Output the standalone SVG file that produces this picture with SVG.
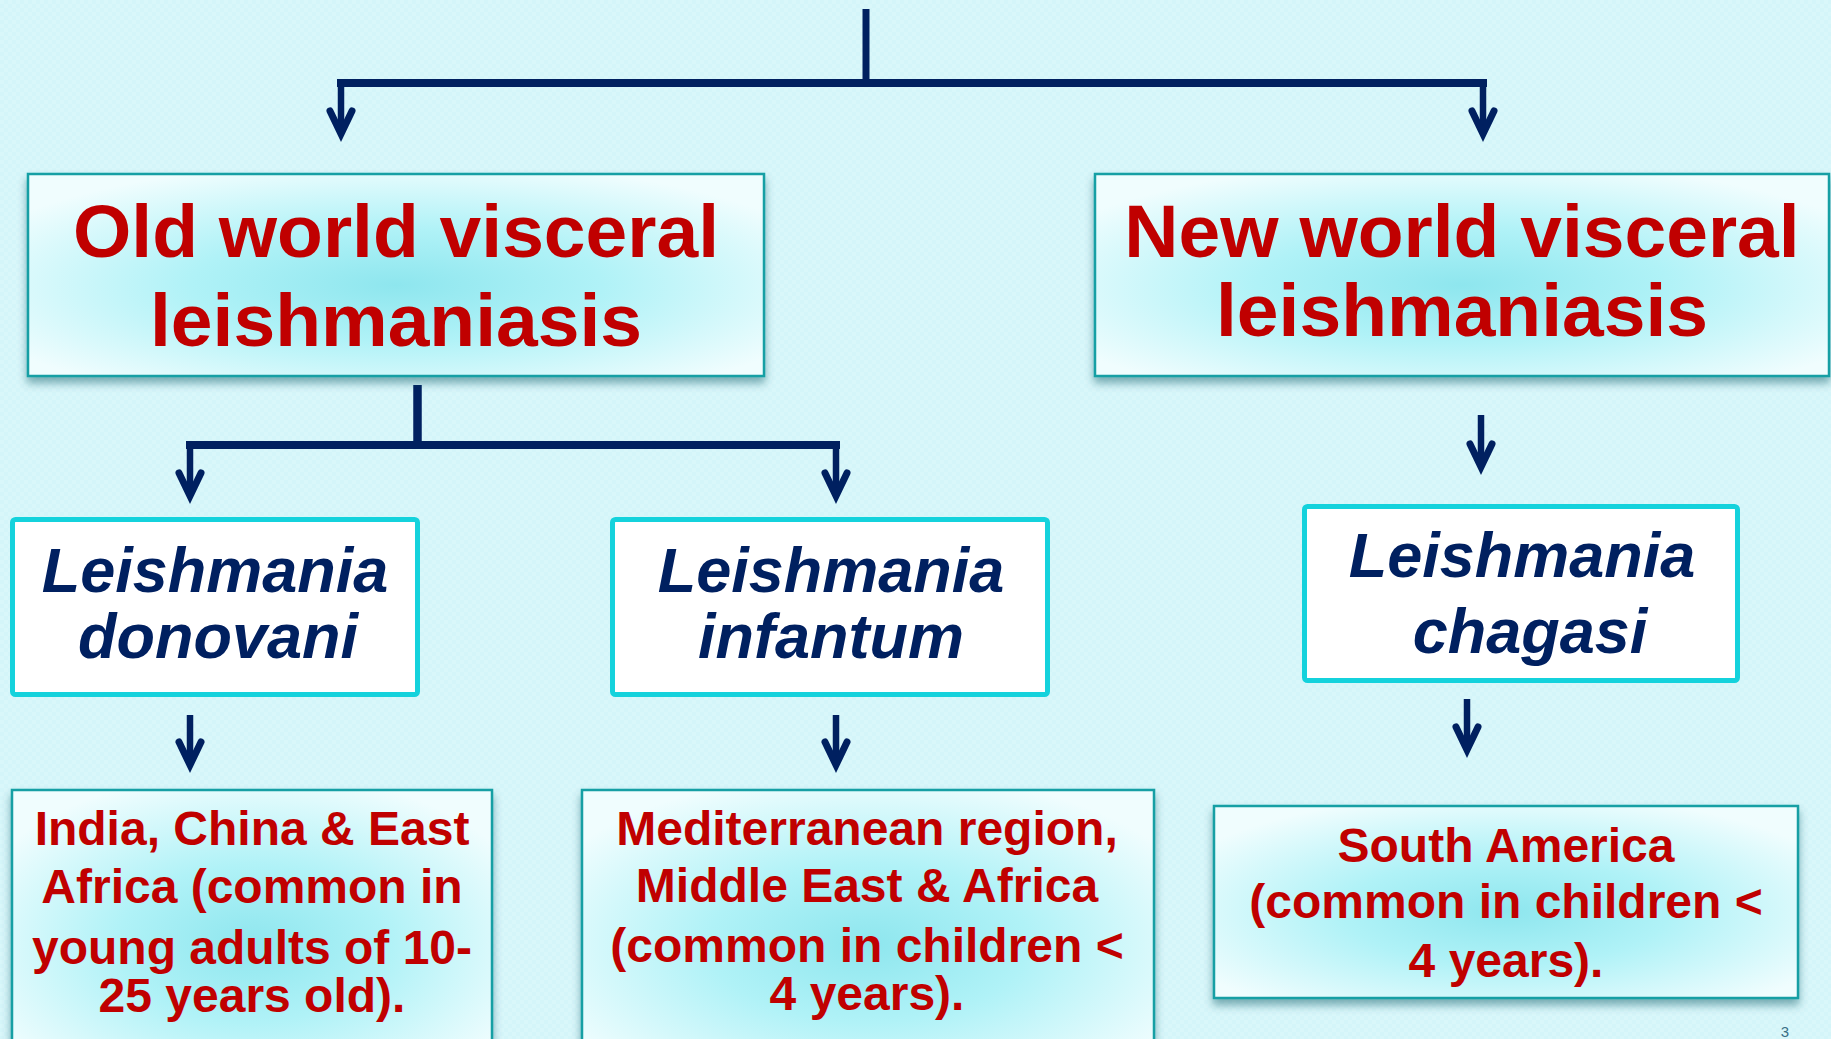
<svg xmlns="http://www.w3.org/2000/svg" width="1831" height="1039" viewBox="0 0 1831 1039">
  <defs>
    <pattern id="bgtex" width="8" height="8" patternUnits="userSpaceOnUse">
      <rect width="8" height="8" fill="#d4f5f9"/>
      <rect width="4" height="4" fill="#d9f7fa"/>
      <rect x="4" y="4" width="4" height="4" fill="#d9f7fa"/>
    </pattern>
    <radialGradient id="boxgrad" cx="50%" cy="55%" r="62%">
      <stop offset="0" stop-color="#8ee6ee"/>
      <stop offset="0.45" stop-color="#b0f2f7"/>
      <stop offset="1" stop-color="#f0fdfe"/>
    </radialGradient>
    <filter id="shadow" x="-5%" y="-5%" width="110%" height="125%">
      <feDropShadow dx="0" dy="6" stdDeviation="4" flood-color="#0b4f5a" flood-opacity="0.45"/>
    </filter>
    <marker id="ah" markerUnits="userSpaceOnUse" viewBox="-30 -16 44 32" markerWidth="44" markerHeight="32" refX="0" refY="0" orient="auto">
      <path d="M-23,-11 L0,0 L-23,11" fill="none" stroke="#002060" stroke-width="7" stroke-linecap="round" stroke-linejoin="miter"/>
    </marker>
    <style>
      .conn { stroke: #002060; fill: none; }
      .bar { stroke-width: 8; }
      .shaft { stroke-width: 6.5; marker-end: url(#ah); }
      .tbox { fill: url(#boxgrad); stroke: #139fa4; stroke-width: 2.5; filter: url(#shadow); }
      .sbox { fill: #ffffff; stroke: #14d2dc; stroke-width: 5; }
      .title { font-family: "Liberation Sans", Arial, sans-serif; font-weight: bold; font-size: 75px; fill: #c00000; text-anchor: middle; }
      .species { font-family: "Liberation Sans", Arial, sans-serif; font-weight: bold; font-style: italic; font-size: 63px; fill: #002060; text-anchor: middle; }
      .region { font-family: "Liberation Sans", Arial, sans-serif; font-weight: bold; font-size: 48px; fill: #c00000; text-anchor: middle; }
    </style>
  </defs>

  <rect width="1831" height="1039" fill="url(#bgtex)"/>

  <g id="connectors">
    <line class="conn" x1="866" y1="9" x2="866" y2="87" stroke-width="7"/>
    <line class="conn bar" x1="337" y1="83" x2="1487" y2="83"/>
    <line class="conn shaft" x1="341" y1="83" x2="341" y2="134"/>
    <line class="conn shaft" x1="1483" y1="83" x2="1483" y2="134"/>

    <line class="conn" x1="417.5" y1="385" x2="417.5" y2="449" stroke-width="8.5"/>
    <line class="conn bar" x1="186" y1="445" x2="840" y2="445"/>
    <line class="conn shaft" x1="190" y1="445" x2="190" y2="496"/>
    <line class="conn shaft" x1="836" y1="445" x2="836" y2="496"/>

    <line class="conn shaft" x1="1481" y1="415" x2="1481" y2="467"/>

    <line class="conn shaft" x1="190" y1="715" x2="190" y2="765"/>
    <line class="conn shaft" x1="836" y1="715" x2="836" y2="765"/>
    <line class="conn shaft" x1="1467" y1="699" x2="1467" y2="750"/>
  </g>

  <g id="old-world">
    <rect class="tbox" x="28" y="174" width="736" height="202"/>
    <text class="title" x="396" y="257">Old world visceral</text>
    <text class="title" x="396" y="346">leishmaniasis</text>
  </g>

  <g id="new-world">
    <rect class="tbox" x="1095" y="174" width="734" height="202"/>
    <text class="title" x="1462" y="257">New world visceral</text>
    <text class="title" x="1462" y="336">leishmaniasis</text>
  </g>

  <g id="donovani">
    <rect class="sbox" x="12.5" y="519.5" width="405" height="175" rx="3"/>
    <text class="species" x="215" y="592">Leishmania</text>
    <text class="species" x="218" y="658">donovani</text>
  </g>

  <g id="infantum">
    <rect class="sbox" x="612.5" y="519.5" width="435" height="175" rx="3"/>
    <text class="species" x="831" y="592">Leishmania</text>
    <text class="species" x="831" y="658">infantum</text>
  </g>

  <g id="chagasi">
    <rect class="sbox" x="1304.5" y="506.5" width="433" height="174" rx="3"/>
    <text class="species" x="1522" y="577">Leishmania</text>
    <text class="species" x="1530" y="653">chagasi</text>
  </g>

  <g id="region-old-donovani">
    <rect class="tbox" x="12" y="790" width="480" height="280"/>
    <text class="region" x="252" y="845">India, China &amp; East</text>
    <text class="region" x="252" y="903">Africa (common in</text>
    <text class="region" x="252" y="964">young adults of 10-</text>
    <text class="region" x="252" y="1012">25 years old).</text>
  </g>

  <g id="region-infantum">
    <rect class="tbox" x="582" y="790" width="572" height="280"/>
    <text class="region" x="867" y="845">Mediterranean region,</text>
    <text class="region" x="867" y="902">Middle East &amp; Africa</text>
    <text class="region" x="867" y="962">(common in children &lt;</text>
    <text class="region" x="867" y="1010">4 years).</text>
  </g>

  <g id="region-chagasi">
    <rect class="tbox" x="1214" y="806" width="584" height="192"/>
    <text class="region" x="1506" y="862">South America</text>
    <text class="region" x="1506" y="918">(common in children &lt;</text>
    <text class="region" x="1506" y="977">4 years).</text>
  </g>

  <text x="1785" y="1037" font-family="Liberation Sans, Arial, sans-serif" font-size="15" fill="#3a6f86" text-anchor="middle">3</text>
</svg>
